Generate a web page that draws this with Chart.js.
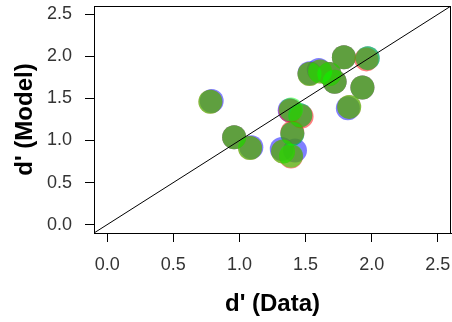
<!DOCTYPE html>
<html>
<head>
<meta charset="utf-8">
<script src="https://cdn.jsdelivr.net/npm/chart.js@4/dist/chart.umd.min.js"></script>
<style>
  body { margin: 0; background: #ffffff; }
  #chartBox { width: 452px; height: 322px; }
</style>
</head>
<body>
<div id="chartBox"><canvas id="myChart" width="452" height="322"></canvas></div>
<script>
// d' values, three overlapping series
let greenX = [0.78, 0.96, 1.08, 1.33, 1.39, 1.39, 1.46, 1.40, 1.53, 1.61, 1.68, 1.72, 1.79, 1.97, 1.93, 1.83];
let greenY = [1.46, 1.04, 0.91, 0.87, 0.82, 1.37, 1.30, 1.08, 1.79, 1.82, 1.79, 1.70, 1.99, 1.98, 1.63, 1.40];
let redX = [0.78, 0.96, 1.08, 1.33, 1.39, 1.385, 1.47, 1.40, 1.53, 1.61, 1.68, 1.72, 1.79, 1.96, 1.93, 1.83];
let redY = [1.46, 1.04, 0.91, 0.87, 0.81, 1.355, 1.285, 1.095, 1.79, 1.82, 1.79, 1.70, 1.99, 1.965, 1.63, 1.40];
let blueX = [0.79, 0.96, 1.09, 1.32, 1.42, 1.38, 1.46, 1.40, 1.53, 1.60, 1.68, 1.72, 1.79, 1.97, 1.93, 1.82];
let blueY = [1.47, 1.04, 0.92, 0.90, 0.88, 1.36, 1.30, 1.08, 1.80, 1.84, 1.79, 1.70, 1.99, 1.98, 1.63, 1.385];

// identity line
let diagX = [-0.1, 2.6];
let diagY = [-0.1, 2.6];

let tickVals = [0, 0.5, 1, 1.5, 2, 2.5];
let axisMin = -0.1;
let axisMax = 2.6;

let toPoints = (xs, ys) => xs.map((x, i) => ({ x: x, y: ys[i] }));

let boxPlugin = {
  id: "box",
  afterDraw: (chart) => {
    let a = chart.chartArea;
    let ctx = chart.ctx;
    ctx.save();
    ctx.strokeStyle = "#000000";
    ctx.lineWidth = 1;
    ctx.strokeRect(a.left + 0.5, a.top + 0.5, a.right - a.left - 1, a.bottom - a.top);
    ctx.restore();
  }
};

let axisOpts = (title, isX) => {
  return {
    type: "linear",
    min: axisMin,
    max: axisMax,
    afterBuildTicks: (s) => {
      s.ticks = tickVals.map((v) => ({ value: v }));
    },
    afterFit: (s) => {
      if (isX) s.height = 89;
      else s.width = 94;
      // let the plot box run to the canvas edges like the original
      s.paddingTop = 0;
      s.paddingRight = 0;
      s.paddingLeft = 0;
      s.paddingBottom = 0;
    },
    grid: {
      drawOnChartArea: false,
      drawTicks: true,
      tickLength: 9,
      color: "#000000",
      lineWidth: 1
    },
    border: { display: true, color: "#000000", width: 1 },
    ticks: {
      color: "#333333",
      padding: isX ? 12 : 13,
      font: { family: "Liberation Sans", size: 18 },
      callback: (v) => Number(v).toFixed(1)
    },
    title: {
      display: true,
      text: title,
      color: "#000000",
      font: { family: "Liberation Sans", size: 24, weight: "bold" },
      padding: isX ? { top: 0, bottom: 3 } : { top: 11, bottom: 0 }
    }
  };
};

let config = {
  type: "scatter",
  data: {
    datasets: [
      {
        label: "identity",
        data: toPoints(diagX, diagY),
        showLine: true,
        borderColor: "#000000",
        borderWidth: 1,
        pointRadius: 0,
        fill: false
      },
      {
        label: "green",
        data: toPoints(greenX, greenY),
        backgroundColor: "rgba(0, 255, 0, 0.5)",
        borderWidth: 0,
        pointRadius: 12
      },
      {
        label: "red",
        data: toPoints(redX, redY),
        backgroundColor: "rgba(255, 0, 0, 0.5)",
        borderWidth: 0,
        pointRadius: 12
      },
      {
        label: "blue",
        data: toPoints(blueX, blueY),
        backgroundColor: "rgba(0, 0, 255, 0.5)",
        borderWidth: 0,
        pointRadius: 12
      }
    ]
  },
  options: {
    responsive: false,
    animation: false,
    layout: { autoPadding: false, padding: { top: 6, right: 1, left: 0, bottom: 0 } },
    plugins: {
      legend: { display: false },
      tooltip: { enabled: false }
    },
    scales: {
      x: axisOpts("d' (Data)", true),
      y: axisOpts("d' (Model)", false)
    }
  },
  plugins: [boxPlugin]
};

const myChart = new Chart(document.getElementById("myChart"), config);
</script>
</body>
</html>
